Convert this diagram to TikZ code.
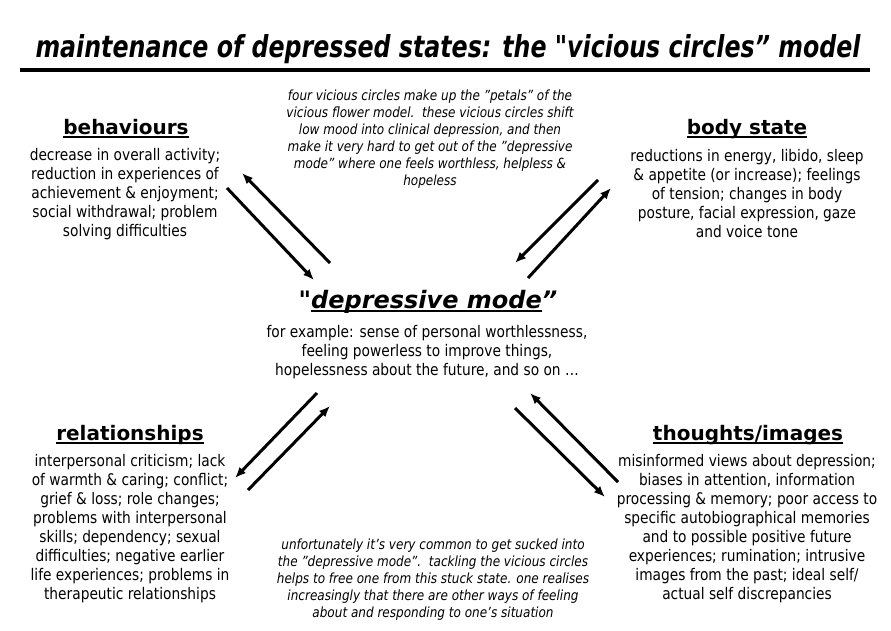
\documentclass[tikz,border=0pt]{standalone}
\usepackage{fontspec}
\usepackage{graphicx}
\usetikzlibrary{arrows.meta}
\setmainfont{DejaVu Sans}[FakeStretch=0.86]
\newfontfamily\hdfont{DejaVu Sans}
\newcommand\hul[1]{\setbox0\hbox{#1}\rlap{\rule[-3.5pt]{\wd0}{2pt}}\box0}
\tikzset{
  body/.style={align=center, inner sep=0pt, font=\fontsize{16}{19}\selectfont},
  note/.style={align=center, inner sep=0pt, font=\fontsize{14}{17}\selectfont\itshape},
  head/.style={anchor=base, inner sep=0pt, font=\hdfont\fontsize{20}{24}\selectfont\bfseries},
  arr/.style={line width=3pt, -{Latex[length=11pt,width=9pt]}}
}
\begin{document}
\begin{tikzpicture}[x=1pt,y=-1pt]
\useasboundingbox (0,0) rectangle (891,630);
\fill[white] (0,0) rectangle (891,630);
% title
\node[anchor=base, inner sep=0pt, font=\hdfont\fontsize{27}{30}\selectfont\bfseries\itshape] (title) at (448,57)
  {\resizebox{825pt}{1.12\height}{maintenance of depressed states: the "vicious circles” model}};
\coordinate (barL) at (20,70);
\coordinate (barR) at (870,70);
\draw[line width=4pt] (barL) -- (barR);
% headings
\node[head] (hbeh) at (126,134) {\hul{behaviours}};
\node[head] (hbody) at (747,134) {\hul{body state}};
\node[head] (hrel) at (130,440) {\hul{relationships}};
\node[head] (hthou) at (748,440) {\hul{thoughts/images}};
\node[anchor=base, inner sep=0pt, font=\hdfont\fontsize{24}{28}\selectfont\bfseries\itshape] (hdep) at (428,308)
  {"\hul{depressive mode}”};
% bodies
\node[body] (bbeh) at (125,194) {decrease in overall activity;\\reduction in experiences of\\achievement \& enjoyment;\\social withdrawal; problem\\solving difficulties};
\node[body] (bbody) at (747,194) {reductions in energy, libido, sleep\\\& appetite (or increase); feelings\\of tension; changes in body\\posture, facial expression, gaze\\and voice tone};
\node[body] (bdep) at (427,352) {for example: sense of personal worthlessness,\\feeling powerless to improve things,\\hopelessness about the future, and so on \dots};
\node[body] (brel) at (130,529) {interpersonal criticism; lack\\of warmth \& caring; conflict;\\grief \& loss; role changes;\\problems with interpersonal\\skills; dependency; sexual\\difficulties; negative earlier\\life experiences; problems in\\therapeutic relationships};
\node[body] (bthou) at (747,529) {misinformed views about depression;\\biases in attention, information\\processing \& memory; poor access to\\specific autobiographical memories\\and to possible positive future\\experiences; rumination; intrusive\\images from the past; ideal self/\\actual self discrepancies};
% notes
\node[note] (ntop) at (430,139) {four vicious circles make up the "petals” of the\\vicious flower model.\ \ these vicious circles shift\\low mood into clinical depression, and then\\make it very hard to get out of the "depressive\\mode” where one feels worthless, helpless \&\\hopeless};
\node[note] (nbot) at (433,580) {unfortunately it's very common to get sucked into\\the "depressive mode”.\ \ tackling the vicious circles\\helps to free one from this stuck state. one realises\\increasingly that there are other ways of feeling\\about and responding to one's situation};
% arrow end points
\coordinate (a1) at (330,263); \coordinate (a2) at (242,173);
\coordinate (b1) at (227,188); \coordinate (b2) at (314,280);
\coordinate (c1) at (598,180); \coordinate (c2) at (515,263);
\coordinate (d1) at (528,278); \coordinate (d2) at (611,188);
\coordinate (e1) at (317,393); \coordinate (e2) at (235,478);
\coordinate (f1) at (248,490); \coordinate (f2) at (330,406);
\coordinate (g1) at (618,482); \coordinate (g2) at (530,393);
\coordinate (h1) at (515,408); \coordinate (h2) at (605,497);
\draw[arr] (a1) -- (a2);
\draw[arr] (b1) -- (b2);
\draw[arr] (c1) -- (c2);
\draw[arr] (d1) -- (d2);
\draw[arr] (e1) -- (e2);
\draw[arr] (f1) -- (f2);
\draw[arr] (g1) -- (g2);
\draw[arr] (h1) -- (h2);
\end{tikzpicture}
\end{document}
